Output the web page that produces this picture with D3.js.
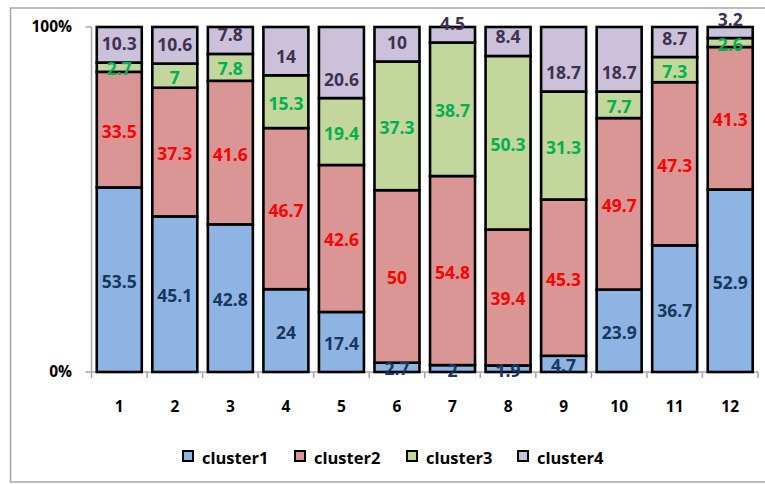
<!DOCTYPE html>
<html>
<head>
<meta charset="utf-8">
<script src="https://cdn.jsdelivr.net/npm/d3@7"></script>
<style>
  html, body { margin: 0; padding: 0; background: #fff; }
  svg { display: block; }
</style>
</head>
<body>
<svg id="chart" width="765" height="484"></svg>
<script>
const categories = ["1","2","3","4","5","6","7","8","9","10","11","12"];
const seriesNames = ["cluster1","cluster2","cluster3","cluster4"];
const cluster1 = [53.5, 45.1, 42.8, 24, 17.4, 2.7, 2, 1.9, 4.7, 23.9, 36.7, 52.9];
const cluster2 = [33.5, 37.3, 41.6, 46.7, 42.6, 50, 54.8, 39.4, 45.3, 49.7, 47.3, 41.3];
const cluster3 = [2.7, 7, 7.8, 15.3, 19.4, 37.3, 38.7, 50.3, 31.3, 7.7, 7.3, 2.6];
const cluster4 = [10.3, 10.6, 7.8, 14, 20.6, 10, 4.5, 8.4, 18.7, 18.7, 8.7, 3.2];
const yTickLabels = ["0%", "100%"];

const fills = ["#8EB4E3", "#D99694", "#C3D69B", "#CCC1DA"];
const textColors = ["#17375E", "#FF0000", "#00B050", "#3F3151"];
// label placement per series: centred in the segment, or sitting at its base
const labelPlacement = ["center", "center", "center", "base"];
const font = "'Open Sans', sans-serif";

const rows = categories.map((c, i) => ({
  cat: c,
  cluster1: cluster1[i], cluster2: cluster2[i], cluster3: cluster3[i], cluster4: cluster4[i]
}));

const stacked = d3.stack().keys(seriesNames).offset(d3.stackOffsetExpand)(rows);

const svg = d3.select("#chart");

// outer chart frame
svg.append("rect")
  .attr("x", 10.5).attr("y", 8).attr("width", 760).attr("height", 474)
  .attr("fill", "none").attr("stroke", "#A6A6A6").attr("stroke-width", 1.5);

const plot = { left: 91.5, right: 758, top: 27, bottom: 372 };

const x = d3.scaleBand().domain(categories).range([plot.left, plot.right])
  .paddingInner(0.19).paddingOuter(0.095);
const y = d3.scaleLinear().domain([0, 1]).range([plot.bottom, plot.top]);
const xStep = d3.scaleLinear().domain([0, categories.length]).range([plot.left, plot.right]);

// axis lines and ticks
const axisG = svg.append("g");
const axisColor = "#A6A6A6";
axisG.append("line").attr("x1", plot.left).attr("x2", plot.left)
  .attr("y1", plot.top).attr("y2", plot.bottom)
  .attr("stroke", axisColor).attr("stroke-width", 1.5);
axisG.append("line").attr("x1", plot.left - 6).attr("x2", plot.right)
  .attr("y1", plot.bottom).attr("y2", plot.bottom)
  .attr("stroke", axisColor).attr("stroke-width", 1.5);
axisG.append("line").attr("x1", plot.left - 6).attr("x2", plot.left)
  .attr("y1", plot.top).attr("y2", plot.top)
  .attr("stroke", axisColor).attr("stroke-width", 1.5);
d3.range(categories.length + 1).forEach(k => {
  axisG.append("line").attr("x1", xStep(k)).attr("x2", xStep(k))
    .attr("y1", plot.bottom).attr("y2", plot.bottom + 6)
    .attr("stroke", axisColor).attr("stroke-width", 1.5);
});

// y tick labels
axisG.selectAll("text.ytick").data(yTickLabels).join("text")
  .attr("class", "ytick")
  .attr("x", 72)
  .attr("y", (d, i) => y(i) + 5)
  .attr("text-anchor", "end")
  .attr("font-family", font).attr("font-weight", "bold").attr("font-size", 15.5)
  .attr("fill", "#000").text(d => d);

// x tick labels
axisG.selectAll("text.xtick").data(categories).join("text")
  .attr("class", "xtick")
  .attr("x", d => x(d) + x.bandwidth() / 2)
  .attr("y", 412)
  .attr("text-anchor", "middle")
  .attr("font-family", font).attr("font-weight", "bold").attr("font-size", 15.5)
  .attr("fill", "#000").text(d => d);

// stacked bars
const layers = svg.append("g").selectAll("g").data(stacked).join("g")
  .attr("fill", (d, i) => fills[i]);

layers.selectAll("rect").data(d => d).join("rect")
  .attr("x", d => x(d.data.cat))
  .attr("y", d => y(d[1]))
  .attr("width", x.bandwidth())
  .attr("height", d => y(d[0]) - y(d[1]))
  .attr("stroke", "#000").attr("stroke-width", 2.6);

// value labels
const labels = svg.append("g");
stacked.forEach((layer, si) => {
  labels.selectAll(null).data(layer).join("text")
    .attr("x", d => x(d.data.cat) + x.bandwidth() / 2)
    .attr("y", d => labelPlacement[si] === "base"
      ? y(d[0]) - 12.5
      : (y(d[0]) + y(d[1])) / 2 + 8)
    .attr("text-anchor", "middle")
    .attr("font-family", font).attr("font-weight", "bold").attr("font-size", 17.5)
    .attr("fill", textColors[si])
    .text(d => d.data[layer.key]);
});

// legend
const legendX = [183, 295, 407, 518];
const legend = svg.append("g");
seriesNames.forEach((name, i) => {
  const g = legend.append("g").attr("transform", `translate(${legendX[i]},451)`);
  g.append("rect").attr("x", 0).attr("y", 0).attr("width", 10).attr("height", 10)
    .attr("fill", fills[i]).attr("stroke", "#000").attr("stroke-width", 2);
  g.append("text").attr("x", 19).attr("y", 13)
    .attr("font-family", font).attr("font-weight", "bold").attr("font-size", 16.5)
    .attr("fill", "#000").text(name);
});
</script>
</body>
</html>
